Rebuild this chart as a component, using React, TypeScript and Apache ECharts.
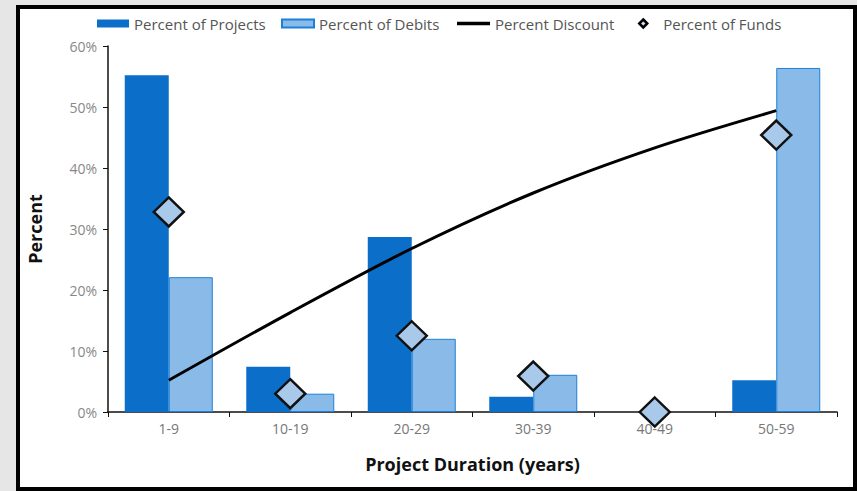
import React, { useEffect, useRef } from "react";
import * as echarts from "echarts";

const categories = ["1-9", "10-19", "20-29", "30-39", "40-49", "50-59"];
const percentProjects = [55.2, 7.4, 28.7, 2.5, 0, 5.2];
const percentDebits = [22.1, 3.0, 12.0, 6.1, 0, 56.4];
const percentDiscount = [5.2, 16.3, 26.8, 35.9, 43.3, 49.4];
const percentFunds = [32.8, 3.0, 12.5, 5.9, 0, 45.4];

const FONT = "'Open Sans', 'DejaVu Sans', sans-serif";

export default function App() {
  const ref = useRef<HTMLDivElement>(null);

  useEffect(() => {
    if (!ref.current) return;
    const chart = echarts.init(ref.current, null, { renderer: "svg" });
    const legendText = { color: "#555", fontSize: 15, fontFamily: FONT };
    const debitsData = percentDebits.map((v) =>
      v === 0 ? { value: v, itemStyle: { borderWidth: 0 } } : v
    );
    chart.setOption({
      animation: false,
      backgroundColor: "transparent",
      textStyle: { fontFamily: FONT },
      legend: [
        {
          left: 92, top: 11, itemWidth: 32, itemHeight: 8,
          textStyle: legendText, selectedMode: false,
          data: [{ name: "Percent of Projects", icon: "rect" }],
        },
        {
          left: 276, top: 11, itemWidth: 32, itemHeight: 8,
          textStyle: legendText, selectedMode: false,
          data: [{ name: "Percent of Debits", icon: "rect" }],
        },
        {
          left: 452, top: 11, itemWidth: 33, itemHeight: 8,
          textStyle: legendText, selectedMode: false,
          data: [{ name: "Percent Discount", icon: "path://M0,0H30V3H0Z" }],
        },
        {
          left: 633, top: 11, itemWidth: 30, itemHeight: 8,
          textStyle: legendText, selectedMode: false,
          data: [{
            name: "Percent of Funds",
            icon: "path://M4,0L8,4L4,8L0,4Z",
            itemStyle: { color: "#cfe0f2", borderColor: "#000", borderWidth: 2.5 },
          }],
        },
      ],
      grid: { left: 108, right: 20, top: 46, bottom: 79, containLabel: false },
      xAxis: {
        type: "category",
        data: categories,
        boundaryGap: true,
        name: "Project Duration (years)",
        nameLocation: "middle",
        nameGap: 43,
        nameTextStyle: { fontSize: 18, fontWeight: "bold", color: "#111", fontFamily: FONT },
        axisLine: { lineStyle: { color: "#111", width: 1.5 } },
        axisTick: { show: true, alignWithLabel: false, length: 5, lineStyle: { color: "#111" } },
        axisLabel: { color: "#777", fontSize: 14, margin: 9 },
        splitLine: { show: false },
      },
      yAxis: {
        type: "value",
        min: 0,
        max: 60,
        interval: 10,
        name: "Percent",
        nameLocation: "middle",
        nameGap: 64,
        nameTextStyle: { fontSize: 18, fontWeight: "bold", color: "#111", fontFamily: FONT },
        axisLine: { show: true, lineStyle: { color: "#111", width: 1.5 } },
        axisTick: { show: true, length: 5, lineStyle: { color: "#111" } },
        axisLabel: { color: "#888", fontSize: 14, margin: 11, formatter: "{value}%" },
        splitLine: { show: false },
      },
      series: [
        {
          name: "Percent of Projects",
          type: "bar",
          data: percentProjects,
          barWidth: 44,
          barGap: "0%",
          itemStyle: { color: "#0b6fca" },
          z: 2,
        },
        {
          name: "Percent of Debits",
          type: "bar",
          data: debitsData,
          barWidth: 44,
          barGap: "0%",
          itemStyle: { color: "#89bae8", borderColor: "#1d80d8", borderWidth: 1 },
          z: 2,
        },
        {
          name: "Percent Discount",
          type: "line",
          data: percentDiscount,
          smooth: 0.3,
          showSymbol: false,
          symbol: "none",
          lineStyle: { color: "#000", width: 3 },
          itemStyle: { color: "#000" },
          z: 3,
        },
        {
          name: "Percent of Funds",
          type: "scatter",
          data: percentFunds,
          symbol: "diamond",
          symbolSize: [30, 29],
          clip: false,
          itemStyle: { color: "#a9c9ea", borderColor: "#111", borderWidth: 2.5, opacity: 1 },
          z: 4,
        },
      ],
    });
    return () => chart.dispose();
  }, []);

  return (
    <div style={{ position: "fixed", left: 0, top: 0, width: 857, height: 491, background: "#e6e6e6", overflow: "hidden" }}>
      <div
        style={{
          position: "absolute", left: 16, top: 5, width: 841, height: 486,
          boxSizing: "border-box", border: "4px solid #000",
          background: "#fff",
        }}
      />
      <div ref={ref} style={{ position: "absolute", left: 0, top: 0, width: 857, height: 491 }} />
    </div>
  );
}
